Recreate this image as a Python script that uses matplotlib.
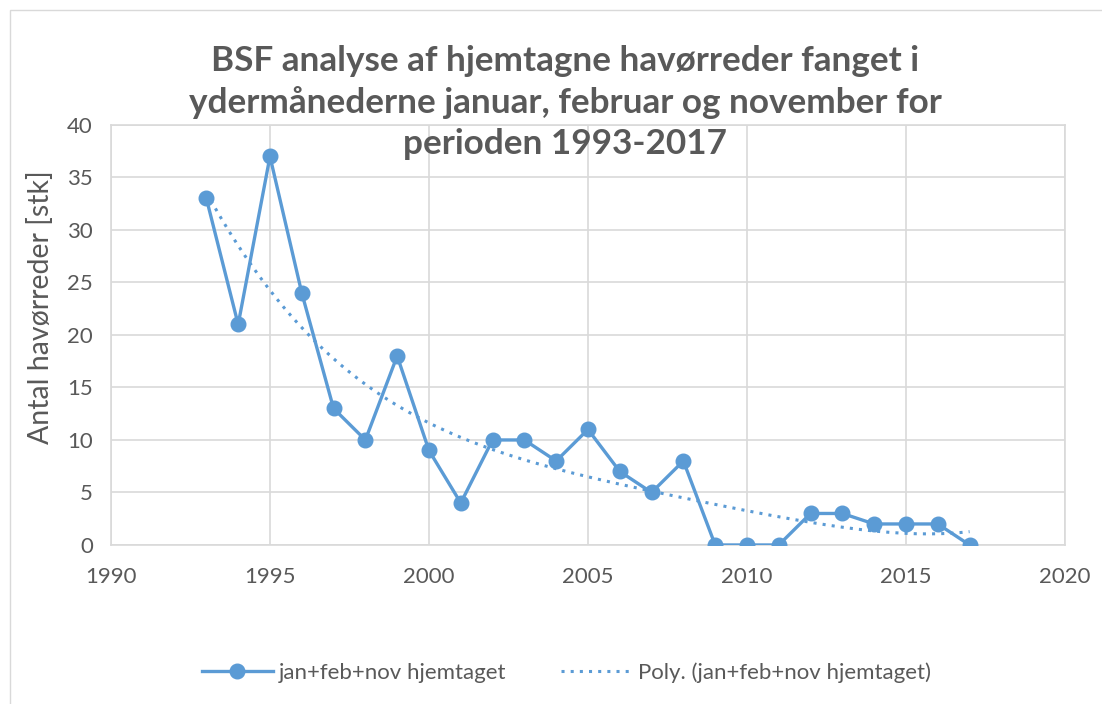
import numpy as np
import matplotlib
matplotlib.use('Agg')
import matplotlib.pyplot as plt
from matplotlib.patches import Rectangle

#%% data
years = [1993, 1994, 1995, 1996, 1997, 1998, 1999, 2000, 2001, 2002, 2003, 2004, 2005,
         2006, 2007, 2008, 2009, 2010, 2011, 2012, 2013, 2014, 2015, 2016, 2017]
catches = [33, 21, 37, 24, 13, 10, 18, 9, 4, 10, 10, 8, 11,
           7, 5, 8, 0, 0, 0, 3, 3, 2, 2, 2, 0]

blue = '#5b9bd5'
grey_txt = '#595959'
grid_col = '#d9d9d9'

plt.rcParams['font.family'] = ['Lato', 'DejaVu Sans']

fig = plt.figure(figsize=(11.02, 7.04), dpi=100)
ax = fig.add_axes([0.1007, 0.2259, 0.8657, 0.5966])

# polynomial trendline, order 4 (as in Excel)
coef = np.polyfit(years, catches, 4)
xt = np.linspace(years[0], years[-1], 200)
yt = np.polyval(coef, xt)

ax.plot(years, catches, color=blue, lw=2.4, marker='o', ms=10.5,
        label='jan+feb+nov hjemtaget', zorder=3)
ax.plot(xt, yt, color=blue, lw=2.2, linestyle=(0, (1, 2)),
        label='Poly. (jan+feb+nov hjemtaget)', zorder=2)

ax.set_xlim(1990, 2020)
ax.set_ylim(0, 40)
ax.set_xticks(range(1990, 2021, 5))
ax.set_yticks(range(0, 41, 5))
ax.grid(True, color=grid_col, lw=1.2)
ax.set_axisbelow(True)
for s in ax.spines.values():
    s.set_color(grid_col)
    s.set_linewidth(1.2)
ax.tick_params(length=0, labelsize=16, colors=grey_txt)
ax.tick_params(axis='x', pad=16)
ax.tick_params(axis='y', pad=13)

fig.text(41 / 1102, 0.564, 'Antal havørreder [stk]', rotation=90, ha='center',
         va='center', fontsize=20.5, color=grey_txt)

fig.text(0.513, 0.936, 'BSF analyse af hjemtagne havørreder fanget i\n'
         'ydermånederne januar, februar og november for\nperioden 1993-2017',
         ha='center', va='top', fontsize=25.3, fontweight='bold',
         color=grey_txt, linespacing=1.33)

fig.legend(loc='center', bbox_to_anchor=(0.514, 0.045), ncol=2, frameon=False,
           fontsize=16, labelcolor=grey_txt, handlelength=3.2, columnspacing=2.5,
           handletextpad=0.25)

fig.patches.append(Rectangle((0.009, -0.01), 1.1, 0.996, transform=fig.transFigure,
                             fill=False, edgecolor=grid_col, lw=1))

fig.savefig('out.png', dpi=100)
